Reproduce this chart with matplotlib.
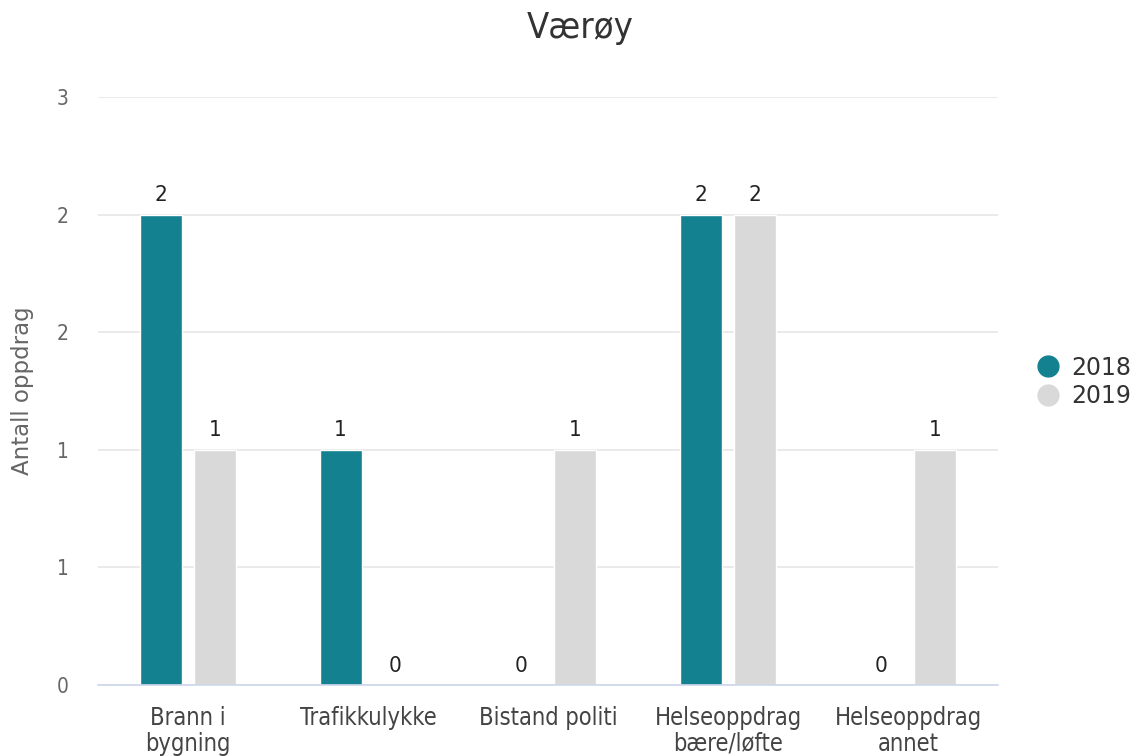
import math
import matplotlib
matplotlib.use('Agg')
import matplotlib.pyplot as plt
from matplotlib.ticker import MultipleLocator, FuncFormatter
from matplotlib.lines import Line2D

plt.rcParams['font.family'] = ['DejaVu Sans']
plt.rcParams['font.stretch'] = 'condensed'

categories = ['Brann i\nbygning', 'Trafikkulykke', 'Bistand politi',
              'Helseoppdrag\nbære/løfte', 'Helseoppdrag\nannet']
series_names = ['2018', '2019']
values_2018 = [2, 1, 0, 2, 0]
values_2019 = [1, 0, 1, 2, 1]
colors = ['#13818f', '#d9d9d9']

fig = plt.figure(figsize=(11.47, 7.56), dpi=100)
ax = fig.add_axes([98 / 1147, 1 - 685 / 756, 900 / 1147, 588 / 756])

x = list(range(len(categories)))
w = 0.233
off = 0.152
for vals, sign, col in [(values_2018, -1, colors[0]), (values_2019, 1, colors[1])]:
    xs = [i + sign * off for i in x]
    ax.bar(xs, vals, width=w, color=col, edgecolor='white', linewidth=1, zorder=3)
    for xi, v in zip(xs, vals):
        ax.text(xi, v + 0.04, str(v), ha='center', va='bottom', fontsize=16, color='#222222', zorder=4)

ax.set_xlim(-0.5, len(categories) - 0.5)
ax.set_ylim(0, 2.5)
ax.yaxis.set_major_locator(MultipleLocator(0.5))
ax.yaxis.set_major_formatter(FuncFormatter(lambda v, p: str(int(math.floor(v + 0.5)))))
ax.grid(axis='y', color='#e6e6e6', linewidth=1.2, zorder=0)
ax.set_axisbelow(True)
for s in ['top', 'right', 'left']:
    ax.spines[s].set_visible(False)
ax.spines['bottom'].set_color('#ccd6eb')
ax.spines['bottom'].set_linewidth(1.2)
ax.spines['bottom'].set_zorder(5)
ax.tick_params(axis='y', length=0, labelsize=15, labelcolor='#666666', pad=21)
ax.tick_params(axis='x', length=0, labelsize=17, labelcolor='#444444', pad=15)
ax.set_xticks(x)
ax.set_xticklabels(categories, linespacing=1.1, va='top')
ax.set_ylabel('Antall oppdrag', fontsize=16.5, color='#666666', fontstretch='normal')
ax.yaxis.set_label_coords(-64 / 900, 0.5)

fig.text(580 / 1147, 1 - 28 / 756, 'Værøy', ha='center', va='center', fontsize=26, color='#333333')

handles = [Line2D([], [], marker='o', linestyle='', markersize=15, color=c) for c in colors]
fig.legend(handles, series_names, loc='center left', bbox_to_anchor=(1013 / 1147, 1 - 382 / 756),
           frameon=False, prop=dict(size=17, stretch='normal'), handletextpad=0.35,
           labelspacing=0.2, labelcolor='#333333', handlelength=1.2)

fig.savefig('out.png', dpi=100)
